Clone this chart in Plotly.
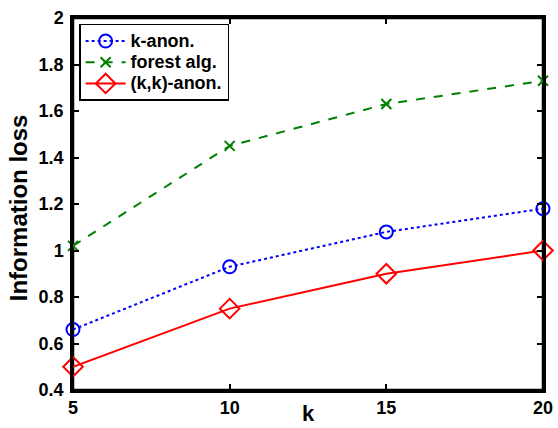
import plotly.graph_objects as go

k = [5, 10, 15, 20]
k_anon = [0.66, 0.93, 1.08, 1.18]
forest = [1.02, 1.45, 1.63, 1.73]
kk_anon = [0.50, 0.75, 0.90, 1.00]
x_ticks = [5, 10, 15, 20]
y_ticks = [0.4, 0.6, 0.8, 1.0, 1.2, 1.4, 1.6, 1.8, 2.0]
y_labels = ["0.4", "0.6", "0.8", "1", "1.2", "1.4", "1.6", "1.8", "2"]
names = ["k-anon.", "forest alg.", "(k,k)-anon."]
x_range = [5, 20]
y_range = [0.4, 2.0]

FONT = "Liberation Sans, Arial, sans-serif"


def leg(s):
    return "<b><span style='font-size:18px'>" + s + "</span></b>"


fig = go.Figure()
# axes frame (box)
fig.add_trace(go.Scatter(x=[x_range[0], x_range[1], x_range[1], x_range[0], x_range[0]],
                         y=[y_range[0], y_range[0], y_range[1], y_range[1], y_range[0]],
                         mode="lines", line=dict(color="black", width=2.5),
                         showlegend=False, hoverinfo="skip", cliponaxis=False))
fig.add_trace(go.Scatter(x=k, y=k_anon, name=leg(names[0]), mode="lines+markers",
                         line=dict(color="blue", dash="dot", width=2), cliponaxis=False,
                         marker=dict(symbol="circle-open", size=13, color="blue", line=dict(width=2))))
fig.add_trace(go.Scatter(x=k, y=forest, name=leg(names[1]), mode="lines+markers",
                         line=dict(color="green", dash="dash", width=2), cliponaxis=False,
                         marker=dict(symbol="x-thin-open", size=10, color="green", line=dict(width=2, color="green"))))
fig.add_trace(go.Scatter(x=k, y=kk_anon, name=leg(names[2]), mode="lines+markers",
                         line=dict(color="red", width=2), cliponaxis=False,
                         marker=dict(symbol="diamond-open", size=15, color="red", line=dict(width=2))))

axis_common = dict(showline=True, linecolor="#000000", linewidth=2.5, mirror="ticks",
                   ticks="inside", ticklen=6, tickwidth=1.5, tickcolor="black",
                   showgrid=False, zeroline=False, automargin=False,
                   tickfont=dict(family=FONT, size=18, color="black"))

fig.update_layout(
    width=558, height=428,
    margin=dict(l=73, r=15, t=18, b=38),
    plot_bgcolor="white", paper_bgcolor="white",
    xaxis=dict(range=x_range, tickvals=x_ticks, ticktext=["<b>%d</b>" % v for v in x_ticks],
               **axis_common),
    yaxis=dict(range=y_range, tickvals=y_ticks, ticktext=["<b>%s</b>" % s for s in y_labels],
               ticklabelstandoff=3, **axis_common),
    legend=dict(x=0.013, y=0.984, xanchor="left", yanchor="top",
                bgcolor="white", bordercolor="black", borderwidth=1.5,
                font=dict(family=FONT, size=14, color="black"),
                tracegroupgap=0, itemwidth=40),
    showlegend=True,
    annotations=[
        dict(text="<b>k</b>", xref="paper", yref="paper", x=0.5, y=0, yshift=-9,
             xanchor="center", yanchor="top", showarrow=False,
             font=dict(family=FONT, size=22, color="black")),
        dict(text="<b>Information loss</b>", xref="paper", yref="paper", x=0, y=0.49, xshift=-39,
             xanchor="right", yanchor="middle", textangle=-90, showarrow=False,
             font=dict(family=FONT, size=24, color="black")),
    ],
)
fig.write_html("out.html", config={"displayModeBar": False},
               post_script="document.body.style.margin='0';")
